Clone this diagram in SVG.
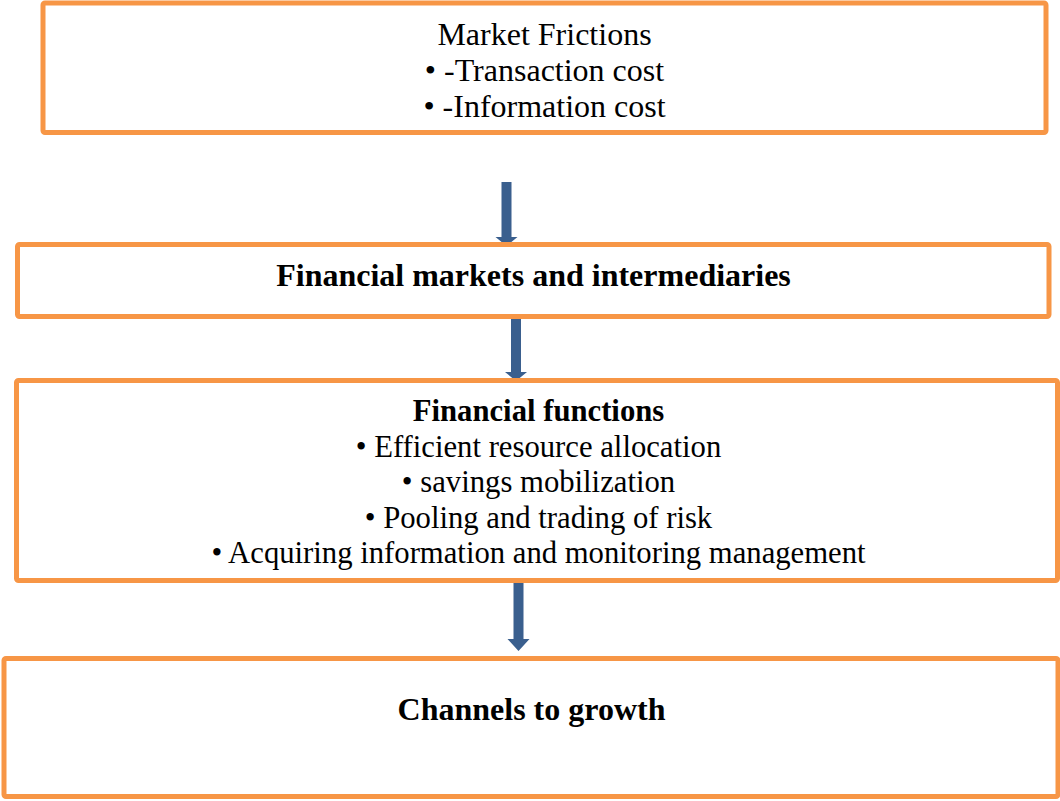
<svg xmlns="http://www.w3.org/2000/svg" width="1060" height="801" viewBox="0 0 1060 801">
  <style>
    .box { fill: #ffffff; stroke: #F79646; stroke-width: 5; }
    .txt { font-family: "Liberation Serif", "Times New Roman", serif; font-size: 32px; fill: #000000; text-anchor: middle; }
    .sm { font-size: 30.7px; }
    .b { font-weight: bold; }
    .arrow { fill: #3A5F8E; }
  </style>
  <rect width="1060" height="801" fill="#ffffff"/>

  <!-- connectors: drawn first so the box borders sit over the arrow tips -->
  <g id="connectors">
    <polygon class="arrow" points="501.5,182 511.5,182 511.5,237 517.5,237 506.5,246 495.5,237 501.5,237"/>
    <polygon class="arrow" points="511,312 521,312 521,372 527,372 516,381 505,372 511,372"/>
    <polygon class="arrow" points="513.5,577 523.5,577 523.5,639 529.5,639 518.5,651 507.5,639 513.5,639"/>
  </g>

  <g id="market-frictions">
    <rect class="box" x="43" y="3" width="1003" height="129.5" rx="2"/>
    <text class="txt" x="544.5" y="45">Market Frictions</text>
    <text class="txt" x="544.5" y="81">• -Transaction cost</text>
    <text class="txt" x="544.5" y="117">• -Information cost</text>
  </g>

  <g id="markets-intermediaries">
    <rect class="box" x="17.5" y="244.5" width="1031.5" height="72" rx="2"/>
    <text class="txt b" x="533.5" y="286">Financial markets and intermediaries</text>
  </g>

  <g id="financial-functions">
    <rect class="box" x="16.5" y="380.5" width="1041" height="200" rx="2"/>
    <text class="txt sm b" x="538.5" y="421">Financial functions</text>
    <text class="txt sm" x="538.5" y="457">• Efficient resource allocation</text>
    <text class="txt sm" x="538.5" y="492">• savings mobilization</text>
    <text class="txt sm" x="538.5" y="528">• Pooling and trading of risk</text>
    <text class="txt sm" x="538.5" y="563">• Acquiring information and monitoring management</text>
  </g>

  <g id="channels-growth">
    <rect class="box" x="4" y="658.5" width="1054" height="138" rx="2"/>
    <text class="txt b" x="531.5" y="720">Channels to growth</text>
  </g>
</svg>
